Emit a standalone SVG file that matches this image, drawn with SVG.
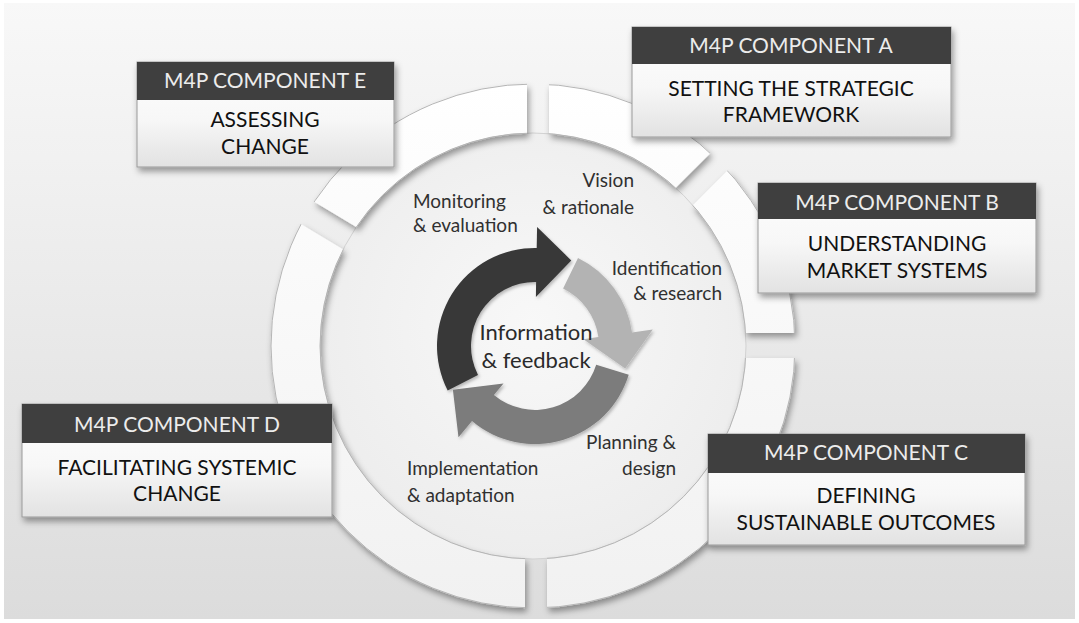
<svg xmlns="http://www.w3.org/2000/svg" width="1079" height="623" viewBox="0 0 1079 623">
  <defs>
    <linearGradient id="bg" x1="0" y1="0" x2="0" y2="1">
      <stop offset="0" stop-color="#f8f8f8"/>
      <stop offset="1" stop-color="#dcdcdc"/>
    </linearGradient>
    <radialGradient id="disc" cx="0.5" cy="0.45" r="0.55">
      <stop offset="0" stop-color="#f8f8f8"/>
      <stop offset="1" stop-color="#ededed"/>
    </radialGradient>
    <linearGradient id="ringFill" x1="0" y1="0" x2="0" y2="1">
      <stop offset="0" stop-color="#ffffff"/>
      <stop offset="1" stop-color="#f1f1f1"/>
    </linearGradient>
    <linearGradient id="bodyFill" x1="0" y1="0" x2="0" y2="1">
      <stop offset="0" stop-color="#ffffff"/>
      <stop offset="0.55" stop-color="#f7f7f7"/>
      <stop offset="1" stop-color="#e2e2e2"/>
    </linearGradient>
    <filter id="shadow" x="-10%" y="-10%" width="130%" height="140%">
      <feDropShadow dx="2" dy="4" stdDeviation="3" flood-color="#000" flood-opacity="0.38"/>
    </filter>
    <filter id="softShadow" x="-10%" y="-10%" width="130%" height="130%">
      <feDropShadow dx="1.5" dy="2" stdDeviation="1.5" flood-color="#000" flood-opacity="0.25"/>
    </filter>
    <!-- cuts that split the outer ring into five segments -->
    <mask id="ringGaps" maskUnits="userSpaceOnUse" x="0" y="0" width="1079" height="623">
      <rect width="1079" height="623" fill="#fff"/>
      <rect x="527" y="0" width="22" height="346" fill="#000"/>
      <rect x="525" y="346" width="22" height="300" fill="#000"/>
      <rect x="533" y="333" width="560" height="25" fill="#000"/>
      <rect x="0" y="-11" width="320" height="24.5" fill="#000" transform="translate(533 346) rotate(-45)"/>
      <rect x="0" y="-15" width="320" height="26" fill="#000" transform="translate(533 346) rotate(-149)"/>
    </mask>
    <style>
      .head { fill: #3f3f3f; }
      .body { fill: url(#bodyFill); stroke: #9a9a9a; stroke-width: 1; }
      .headText { font-family: Lato, "Liberation Sans", sans-serif; font-size: 21px; fill: #ececec; text-anchor: middle; }
      .bodyText { font-family: Lato, "Liberation Sans", sans-serif; font-size: 21px; fill: #111; text-anchor: middle; }
      .label { font-family: Lato, "Liberation Sans", sans-serif; font-size: 19px; fill: #303030; }
      .center { font-family: Lato, "Liberation Sans", sans-serif; font-size: 22px; fill: #2a2a2a; text-anchor: middle; }
      .end { text-anchor: end; }
    </style>
  </defs>

  <!-- background -->
  <rect width="1079" height="623" fill="#ffffff"/>
  <rect x="4" y="3" width="1071" height="616" fill="url(#bg)"/>

  <!-- inner disc -->
  <circle id="disc" cx="533" cy="346" r="213" fill="url(#disc)" stroke="#d2d2d2" stroke-width="1"/>

  <!-- segmented outer ring -->
  <g id="ring" filter="url(#shadow)">
    <path mask="url(#ringGaps)" fill="url(#ringFill)" stroke="#b5b5b5" stroke-width="1" fill-rule="evenodd"
          d="M271 346A262 262 0 1 0 795 346A262 262 0 1 0 271 346Z M320 346A213 213 0 1 0 746 346A213 213 0 1 0 320 346Z"/>
  </g>

  <!-- cycle arrows -->
  <g id="connectors" filter="url(#softShadow)">
    <path id="arrow-dark" fill="#383838"
          d="M447.7 390.5A98 98 0 0 1 536.7 248L537.1 227L571.3 260.4L535.9 297L536.1 282A64 64 0 0 0 478 375.1Z"/>
    <path id="arrow-light" fill="#b3b3b3"
          d="M578 257.9A98 98 0 0 1 632 332.4L652.8 329.4L625.2 368.5L583.5 339.2L598.4 337.1A64 64 0 0 0 563.1 288.5Z"/>
    <path id="arrow-mid" fill="#7b7b7b"
          d="M628.7 374.7A98 98 0 0 1 472 421.1L458.5 437.2L452.9 389.7L503.5 383.5L493.9 395A64 64 0 0 0 596.2 364.7Z"/>
  </g>

  <!-- stage labels -->
  <g id="labels">
    <text class="label end" x="634" y="187">Vision</text>
    <text class="label end" x="634" y="214">&amp; rationale</text>
    <text class="label" x="413" y="208">Monitoring</text>
    <text class="label" x="413" y="232">&amp; evaluation</text>
    <text class="label end" x="722" y="275">Identification</text>
    <text class="label end" x="722" y="300">&amp; research</text>
    <text class="label end" x="676" y="449">Planning &amp;</text>
    <text class="label end" x="676" y="475">design</text>
    <text class="label" x="407" y="475">Implementation</text>
    <text class="label" x="407" y="502">&amp; adaptation</text>
    <text class="center" x="536" y="340">Information</text>
    <text class="center" x="536" y="368">&amp; feedback</text>
  </g>

  <!-- component boxes -->
  <g id="component-e">
    <rect class="body" x="137" y="62" width="257" height="105" filter="url(#shadow)"/>
    <rect class="head" x="137" y="62" width="257" height="38"/>
    <text class="headText" x="265" y="88">M4P COMPONENT E</text>
    <text class="bodyText" x="265" y="127">ASSESSING</text>
    <text class="bodyText" x="265" y="154">CHANGE</text>
  </g>

  <g id="component-a">
    <rect class="body" x="632" y="27" width="319" height="110" filter="url(#shadow)"/>
    <rect class="head" x="632" y="27" width="319" height="37"/>
    <text class="headText" x="791" y="53">M4P COMPONENT A</text>
    <text class="bodyText" x="791" y="96">SETTING THE STRATEGIC</text>
    <text class="bodyText" x="791" y="122">FRAMEWORK</text>
  </g>

  <g id="component-b">
    <rect class="body" x="758" y="183" width="278" height="110" filter="url(#shadow)"/>
    <rect class="head" x="758" y="183" width="278" height="36"/>
    <text class="headText" x="897" y="210">M4P COMPONENT B</text>
    <text class="bodyText" x="897" y="251">UNDERSTANDING</text>
    <text class="bodyText" x="897" y="278">MARKET SYSTEMS</text>
  </g>

  <g id="component-d">
    <rect class="body" x="22" y="404" width="310" height="113" filter="url(#shadow)"/>
    <rect class="head" x="22" y="404" width="310" height="39"/>
    <text class="headText" x="177" y="432">M4P COMPONENT D</text>
    <text class="bodyText" x="177" y="475">FACILITATING SYSTEMIC</text>
    <text class="bodyText" x="177" y="501">CHANGE</text>
  </g>

  <g id="component-c">
    <rect class="body" x="708" y="434" width="317" height="111" filter="url(#shadow)"/>
    <rect class="head" x="708" y="434" width="317" height="39"/>
    <text class="headText" x="866" y="460">M4P COMPONENT C</text>
    <text class="bodyText" x="866" y="503">DEFINING</text>
    <text class="bodyText" x="866" y="530">SUSTAINABLE OUTCOMES</text>
  </g>
</svg>
